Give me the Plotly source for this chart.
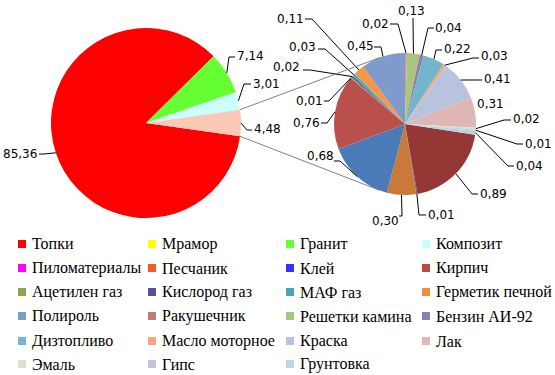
import math
import plotly.graph_objects as go

W, H = 555, 375

# ---------------- data ----------------
main_labels = ["Топки", "Гранит", "Композит", "Прочее"]
main_values = [85.36, 7.14, 3.01, 4.48]
main_colors = ["#ff0000", "#66ff33", "#ccffff", "#fac9b5"]

sec_labels = ["Мрамор", "Пиломатериалы", "Песчаник", "Клей", "Кирпич",
              "Ацетилен газ", "Кислород газ", "МАФ газ", "Герметик печной",
              "Полироль", "Ракушечник", "Решетки камина", "Бензин АИ-92",
              "Дизтопливо", "Масло моторное", "Краска", "Лак", "Эмаль",
              "Гипс", "Грунтовка"]
sec_values = [0.89, 0.01, 0.30, 0.68, 0.76, 0.01, 0.02, 0.03, 0.11, 0.45,
              0.02, 0.13, 0.04, 0.22, 0.03, 0.41, 0.31, 0.02, 0.01, 0.04]
sec_colors = ["#953735", "#604a7b", "#c9793a", "#4a7ab8", "#b9504c",
              "#8aa64f", "#6a5a9a", "#4bacc6", "#f79646", "#7f9bcb",
              "#d49592", "#abc57f", "#8d7fae", "#72b6ce", "#f8a870",
              "#b9c3dd", "#ddb6b5", "#d4e2c4", "#c9c1d8", "#b3d4e4"]

legend_labels = ["Топки", "Мрамор", "Гранит", "Композит",
                 "Пиломатериалы", "Песчаник", "Клей", "Кирпич",
                 "Ацетилен газ", "Кислород газ", "МАФ газ", "Герметик печной",
                 "Полироль", "Ракушечник", "Решетки камина", "Бензин АИ-92",
                 "Дизтопливо", "Масло моторное", "Краска", "Лак",
                 "Эмаль", "Гипс", "Грунтовка"]
legend_colors = ["#ff0000", "#ffff00", "#66ff33", "#ccffff",
                 "#ff00ff", "#f05a28", "#3333ff", "#b84a47",
                 "#8aa64a", "#5a4f9a", "#4ba3bb", "#f08c3c",
                 "#7f9bcb", "#c07a74", "#a9c583", "#8a80ad",
                 "#73b6cf", "#f6a77f", "#b7c2dc", "#e0b8b6",
                 "#d8e4cc", "#cac3d7", "#b8d8e6"]

# ---------------- layout geometry (pixels) ----------------
MAIN_C, MAIN_R = (146.0, 123.0), 95.0
SEC_C, SEC_R = (405.0, 124.0), 71.0

# label placement: text centre, then leader points from label towards slice
main_label_pos = {
    "Топки": ((19.5, 154), [(39, 154), (44, 154)]),
    "Гранит": ((250, 56), [(235, 57), (229, 57)]),
    "Композит": ((266, 84), [(251, 84), (244, 84)]),
    "Прочее": ((267, 129), [(252, 130), (247, 130)]),
}
sec_label_pos = {
    "Мрамор": ((493, 194), [(478, 194), (472, 194)]),
    "Пиломатериалы": ((441, 215), [(426, 215), (419, 215)]),
    "Песчаник": ((385, 221), [(399, 216), (402, 216)]),
    "Клей": ((320, 156), [(334, 161), (340, 161)]),
    "Кирпич": ((306, 123), [(321, 123), (327, 123)]),
    "Ацетилен газ": ((309, 101), [(324, 101), (329, 101)]),
    "Кислород газ": ((286, 67), [(303, 70), (310, 70)]),
    "МАФ газ": ((302, 47), [(318, 49), (325, 49)]),
    "Герметик печной": ((290, 19), [(305, 19), (312, 19)]),
    "Полироль": ((360, 46), [(374, 47), (381, 47)]),
    "Ракушечник": ((375, 24), [(390, 24), (398, 24)]),
    "Решетки камина": ((411, 11), [(413, 18)]),
    "Бензин АИ-92": ((448, 28), [(434, 28), (428, 28)]),
    "Дизтопливо": ((457, 49), [(442, 50), (436, 50)]),
    "Масло моторное": ((494, 56), [(479, 58), (473, 58)]),
    "Краска": ((497, 79), [(482, 80), (476, 80)]),
    "Лак": ((490, 104), []),
    "Эмаль": ((526, 119), [(511, 120), (504, 120)]),
    "Гипс": ((538, 144), [(523, 144), (517, 144)]),
    "Грунтовка": ((529, 166), [(514, 166), (508, 166)]),
}

LABEL_FONT = dict(family="DejaVu Sans", size=12, color="#000000")
LEGEND_FONT = dict(family="Liberation Serif, Times New Roman, serif", size=16,
                   color="#000000")


def px(x):
    return x / W


def py(y):
    return 1 - y / H


def domain(c, r):
    return dict(x=[px(c[0] - r), px(c[0] + r)], y=[py(c[1] + r), py(c[1] - r)])


def fmt(v):
    return f"{v:.2f}".replace(".", ",")


def mid_angles(values, rotation):
    tot = sum(values)
    out, cum = [], rotation
    for v in values:
        a = v / tot * 360
        out.append(cum + a / 2)
        cum += a
    return out


def edge(c, r, ang):
    t = math.radians(ang)
    return (c[0] + r * math.sin(t), c[1] - r * math.cos(t))


# rotations: "Прочее" centred at 3 o'clock; secondary starts with Ракушечник at 12
other_frac = main_values[-1] / sum(main_values)
main_rot = 90 + other_frac * 180
sec_start = sec_labels.index("Ракушечник")
sec_rot = 360 * sum(sec_values[sec_start:]) / sum(sec_values)

fig = go.Figure()
fig.add_trace(go.Pie(labels=main_labels, values=main_values, sort=False,
                     direction="clockwise", rotation=main_rot,
                     marker=dict(colors=main_colors, line=dict(width=0)),
                     textinfo="none", hoverinfo="label+value",
                     domain=domain(MAIN_C, MAIN_R), showlegend=False))
fig.add_trace(go.Pie(labels=sec_labels, values=sec_values, sort=False,
                     direction="clockwise", rotation=sec_rot,
                     marker=dict(colors=sec_colors, line=dict(width=0)),
                     textinfo="none", hoverinfo="label+value",
                     domain=domain(SEC_C, SEC_R), showlegend=False))

shapes, annotations = [], []


def add_labels(labels, values, rot, c, r, posmap):
    for lab, v, ang in zip(labels, values, mid_angles(values, rot)):
        (lx, ly), pts = posmap[lab]
        annotations.append(dict(x=px(lx), y=py(ly), xref="paper", yref="paper",
                                text=fmt(v), showarrow=False, font=LABEL_FONT,
                                xanchor="center", yanchor="middle"))
        if pts:
            e = edge(c, r, ang)
            allp = pts + [e]
            path = "M " + " L ".join(f"{px(x):.5f},{py(y):.5f}" for x, y in allp)
            shapes.append(dict(type="path", path=path, xref="paper", yref="paper",
                               line=dict(color="#000000", width=1)))


add_labels(main_labels, main_values, main_rot, MAIN_C, MAIN_R, main_label_pos)
add_labels(sec_labels, sec_values, sec_rot, SEC_C, SEC_R, sec_label_pos)

# connector lines: tangents from "Прочее" slice corners to the secondary pie
a_top = main_rot - other_frac * 360 + 360
a_bot = main_rot
for ang, sign in ((a_top, -1), (a_bot, 1)):
    P = edge(MAIN_C, MAIN_R, ang)
    dx, dy = SEC_C[0] - P[0], SEC_C[1] - P[1]
    d = math.hypot(dx, dy)
    phi = math.atan2(dy, dx)
    alpha = math.asin(SEC_R / d)
    direc = phi + sign * alpha
    L = math.sqrt(d * d - SEC_R * SEC_R)
    T = (P[0] + L * math.cos(direc), P[1] + L * math.sin(direc))
    shapes.append(dict(type="line", xref="paper", yref="paper",
                       x0=px(P[0]), y0=py(P[1]), x1=px(T[0]), y1=py(T[1]),
                       line=dict(color="#808080", width=1)))

# legend (4 columns)
col_x = [18, 148, 286, 422]
row_y = [244, 268, 292, 316, 341, 364]
for i, (lab, col) in enumerate(zip(legend_labels, legend_colors)):
    cx, ry = col_x[i % 4], row_y[i // 4]
    shapes.append(dict(type="rect", xref="paper", yref="paper",
                       x0=px(cx), x1=px(cx + 8), y0=py(ry + 4), y1=py(ry - 4),
                       fillcolor=col, line=dict(width=0)))
    annotations.append(dict(x=px(cx + 12), y=py(ry), xref="paper", yref="paper",
                            text=lab, showarrow=False, font=LEGEND_FONT,
                            xanchor="left", yanchor="middle"))

fig.update_layout(width=W, height=H, margin=dict(l=0, r=0, t=0, b=0),
                  paper_bgcolor="#ffffff", plot_bgcolor="#ffffff",
                  showlegend=False, shapes=shapes, annotations=annotations)

fig.write_html("out.html", config={"displayModeBar": False},
               post_script="document.body.style.margin='0';document.body.style.overflow='hidden';")
